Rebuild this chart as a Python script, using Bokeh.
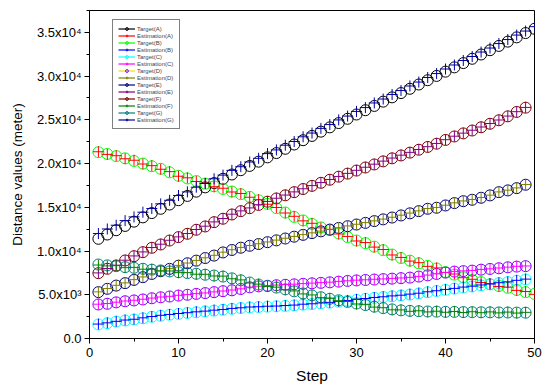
from bokeh.plotting import figure
from bokeh.models import ColumnDataSource, FixedTicker, Legend, LegendItem, Range1d
from bokeh.embed import file_html
from bokeh.resources import INLINE

# ---------------- data (meters) ----------------
steps50 = list(range(1, 51))
steps49 = list(range(1, 50))

target_a = [11400, 11890, 12380, 12870, 13360, 13850, 14340, 14830, 15320, 15810,
            16300, 16790, 17280, 17770, 18260, 18750, 19240, 19730, 20220, 20710,
            21200, 21690, 22180, 22670, 23160, 23650, 24140, 24630, 25120, 25610,
            26100, 26590, 27080, 27570, 28060, 28550, 29040, 29530, 30020, 30510,
            31000, 31490, 31980, 32470, 32960, 33450, 33940, 34430, 34920, 35410]
estimation_a = [21350, 21050, 20900, 20550, 20380, 19950, 19760, 19350, 19080, 18550,
                18370, 17950, 17760, 17350, 17180, 16750, 16580, 16150, 15870, 15350,
                14980, 14350, 13970, 13450, 13170, 12650, 12470, 11950, 11670, 11150,
                10970, 10450, 10170, 9550, 9270, 8850, 8670, 8250, 8070, 7550,
                7370, 6950, 6770, 6400, 6270, 5950, 5870, 5500, 5370, 5050]
target_b = [21300, 21100, 20850, 20600, 20300, 20000, 19700, 19400, 19000, 18600,
            18300, 18000, 17700, 17400, 17100, 16800, 16500, 16200, 15800, 15400,
            14900, 14400, 13900, 13500, 13100, 12700, 12400, 12000, 11600, 11200,
            10900, 10500, 10100, 9600, 9200, 8900, 8600, 8300, 8000, 7600,
            7300, 7000, 6700, 6450, 6200, 6000, 5800, 5550, 5300, 5100]
estimation_b = [1650, 1790, 1960, 2110, 2200, 2360, 2510, 2650, 2750, 2860,
                2950, 3050, 3130, 3240, 3320, 3440, 3510, 3600, 3630, 3690,
                3710, 3770, 3820, 3920, 3970, 4060, 4130, 4250, 4340, 4470,
                4570, 4690, 4770, 4870, 4950, 5070, 5180, 5340, 5460, 5610,
                5730, 5880, 5980, 6120, 6230, 6380, 6480, 6650, 6790]
target_c = [1600, 1750, 1930, 2060, 2170, 2310, 2480, 2600, 2720, 2810,
            2920, 3000, 3100, 3190, 3290, 3390, 3480, 3550, 3600, 3640,
            3680, 3720, 3790, 3870, 3940, 4010, 4100, 4200, 4310, 4420,
            4540, 4640, 4740, 4820, 4920, 5020, 5150, 5290, 5430, 5560,
            5700, 5830, 5950, 6070, 6200, 6330, 6450, 6600, 6750]
estimation_c = [3920, 4000, 4150, 4290, 4370, 4490, 4620, 4740, 4820, 4940,
                5020, 5130, 5210, 5330, 5430, 5540, 5680, 5880, 5980, 6060,
                6110, 6170, 6210, 6280, 6330, 6390, 6440, 6530, 6600, 6670,
                6710, 6770, 6810, 6870, 6920, 6990, 7100, 7250, 7400, 7560,
                7670, 7730, 7780, 7900, 7970, 8060, 8160, 8250, 8290]
target_d = [3890, 3970, 4130, 4260, 4350, 4460, 4600, 4710, 4800, 4910,
            5000, 5100, 5190, 5300, 5410, 5510, 5660, 5850, 5960, 6030,
            6090, 6140, 6190, 6250, 6310, 6360, 6420, 6500, 6580, 6640,
            6690, 6740, 6790, 6840, 6900, 6960, 7080, 7220, 7380, 7530,
            7650, 7700, 7760, 7870, 7950, 8030, 8140, 8220, 8270]
estimation_d = [5330, 5710, 6080, 6360, 6730, 7040, 7410, 7720, 7990, 8360,
                8630, 8930, 9230, 9510, 9870, 10150, 10410, 10630, 10830, 11040,
                11250, 11460, 11670, 11880, 12080, 12280, 12480, 12670, 12870, 13060,
                13250, 13450, 13650, 13860, 14100, 14340, 14590, 14860, 14980, 15240,
                15510, 15730, 15890, 16120, 16390, 16760, 16960, 17220, 17610]
target_e = [5300, 5680, 6050, 6330, 6700, 7010, 7380, 7690, 7960, 8330,
            8600, 8900, 9200, 9480, 9840, 10120, 10380, 10600, 10800, 11010,
            11220, 11430, 11640, 11850, 12050, 12250, 12450, 12640, 12840, 13030,
            13220, 13420, 13620, 13830, 14070, 14310, 14560, 14830, 14950, 15210,
            15480, 15700, 15860, 16090, 16360, 16730, 16930, 17190, 17580]
estimation_e = [7500, 8000, 8380, 8950, 9440, 9900, 10400, 10780, 11230, 11620,
                12000, 12460, 12840, 13330, 13720, 14210, 14590, 14930, 15300, 15670,
                16040, 16400, 16760, 17120, 17480, 17830, 18180, 18530, 18880, 19230,
                19580, 19930, 20280, 20630, 20960, 21280, 21610, 21930, 22300, 22730,
                23130, 23480, 23810, 24180, 24580, 24980, 25430, 25930, 26420]
target_f = [7470, 7970, 8350, 8920, 9410, 9870, 10370, 10750, 11200, 11590,
            11970, 12430, 12810, 13300, 13690, 14180, 14560, 14900, 15270, 15640,
            16010, 16370, 16730, 17090, 17450, 17800, 18150, 18500, 18850, 19200,
            19550, 19900, 20250, 20600, 20930, 21250, 21580, 21900, 22270, 22700,
            23100, 23450, 23780, 24150, 24550, 24950, 25400, 25900, 26390]
estimation_f = [8400, 8300, 8330, 8100, 8130, 7920, 7920, 7730, 7720, 7530,
                7530, 7350, 7340, 7150, 7130, 6830, 6700, 6350, 6220, 5940,
                5870, 5570, 5440, 5100, 4980, 4670, 4590, 4320, 4230, 3950,
                3870, 3590, 3520, 3280, 3270, 3110, 3170, 3040, 3120, 3000,
                3090, 2970, 3060, 2950, 3040, 2930, 3020, 2910, 2990]
target_g = [8460, 8360, 8270, 8160, 8080, 7970, 7870, 7780, 7670, 7580,
            7480, 7400, 7290, 7200, 7080, 6880, 6650, 6400, 6170, 5990,
            5820, 5620, 5390, 5150, 4930, 4720, 4540, 4370, 4180, 4000,
            3820, 3640, 3470, 3330, 3220, 3160, 3120, 3090, 3070, 3050,
            3040, 3020, 3010, 3000, 2990, 2980, 2970, 2960, 2950]
estimation_g = [12000, 12520, 12950, 13480, 13900, 14440, 14860, 15390, 15800, 16350,
                16760, 17300, 17720, 18260, 18680, 19220, 19640, 20180, 20600, 21140,
                21560, 22100, 22520, 23060, 23490, 24020, 24460, 24990, 25430, 25960,
                26400, 26930, 27380, 27900, 28350, 28870, 29320, 29840, 30290, 30810,
                31270, 31780, 32240, 32750, 33210, 33720, 34180, 34690, 35150, 35650]

y_ticks = [0, 5000, 10000, 15000, 20000, 25000, 30000, 35000]
y_minor = [2500, 7500, 12500, 17500, 22500, 27500, 32500, 37500]
y_tick_labels = ["0.0", "5.0x10\u00b3", "1.0x10\u2074", "1.5x10\u2074", "2.0x10\u2074",
                 "2.5x10\u2074", "3.0x10\u2074", "3.5x10\u2074"]
x_ticks = [0, 10, 20, 30, 40, 50]
x_minor = [5, 15, 25, 35, 45]

# (name, steps, values, kind, marker colour, legend line colour)
series = [
    ("Target(A)", steps50, target_a, "circle", "#000000", "#000000"),
    ("Estimation(A)", steps50, estimation_a, "cross", "#FF0000", "#FF0000"),
    ("Target(B)", steps50, target_b, "circle", "#00FF00", "#00FF00"),
    ("Estimation(B)", steps49, estimation_b, "cross", "#0000FF", "#0000FF"),
    ("Target(C)", steps49, target_c, "circle", "#00FFFF", "#00FFFF"),
    ("Estimation(C)", steps49, estimation_c, "cross", "#FF00FF", "#FF00FF"),
    ("Target(D)", steps49, target_d, "circle", "#8000FF", "#E6E600"),
    ("Estimation(D)", steps49, estimation_d, "cross", "#808000", "#808000"),
    ("Target(E)", steps49, target_e, "circle", "#000080", "#000080"),
    ("Estimation(E)", steps49, estimation_e, "cross", "#800080", "#800080"),
    ("Target(F)", steps49, target_f, "circle", "#800000", "#800000"),
    ("Estimation(F)", steps49, estimation_f, "cross", "#008000", "#008000"),
    ("Target(G)", steps49, target_g, "circle", "#008080", "#008080"),
    ("Estimation(G)", steps50, estimation_g, "cross", "#0000A0", "#0000A0"),
]

FONT = "Liberation Sans"

p = figure(width=542, height=392, output_backend="svg", toolbar_location=None,
           x_range=Range1d(0, 50), y_range=Range1d(0, 37500),
           min_border_left=89, min_border_right=8, min_border_top=10, min_border_bottom=54)
p.background_fill_color = "white"
p.border_fill_color = "white"
p.outline_line_color = "black"
p.outline_line_width = 1
p.grid.visible = False

sources = {}
for name, xs, ys, kind, col, lcol in series:
    sources[name] = ColumnDataSource(dict(x=xs, y=ys))

# hidden connecting lines: used only for the legend swatches
line_r = {}
for name, xs, ys, kind, col, lcol in series:
    lr = p.line("x", "y", source=sources[name], line_color=lcol, line_width=1.2)
    lr.visible = False
    line_r[name] = lr

# draw targets first, then estimations on top
order = [s for s in series if s[3] == "circle"] + [s for s in series if s[3] == "cross"]
mark_r = {}
for name, xs, ys, kind, col, lcol in order:
    if kind == "circle":
        r = p.scatter("x", "y", source=sources[name], marker="circle", size=11,
                      fill_color=None, line_color=col, line_width=1)
    else:
        r = p.scatter("x", "y", source=sources[name], marker="cross", size=11,
                      line_color=col, line_width=1)
    mark_r[name] = r

items = [LegendItem(label=s[0], renderers=[line_r[s[0]], mark_r[s[0]]]) for s in series]

legend = Legend(items=items, location=(23, 209))
legend.click_policy = "none"
legend.label_text_font = FONT
legend.label_text_font_size = "6px"
legend.label_height = 7
legend.glyph_height = 7
legend.glyph_width = 17
legend.label_standoff = 2
legend.spacing = 0
legend.padding = 5
legend.margin = 0
legend.border_line_color = "black"
legend.border_line_width = 1
legend.background_fill_color = "white"
legend.background_fill_alpha = 1
p.add_layout(legend, "center")

# axes
p.xaxis.ticker = FixedTicker(ticks=x_ticks, minor_ticks=x_minor)
p.yaxis.ticker = FixedTicker(ticks=y_ticks, minor_ticks=y_minor)
p.yaxis.major_label_overrides = {t: l for t, l in zip(y_ticks, y_tick_labels)}

for ax in (p.xaxis[0], p.yaxis[0]):
    ax.axis_line_color = "black"
    ax.axis_line_width = 1
    ax.major_tick_line_color = "black"
    ax.minor_tick_line_color = "black"
    ax.major_tick_in = 0
    ax.major_tick_out = 5
    ax.minor_tick_in = 0
    ax.minor_tick_out = 3
    ax.major_label_text_font = FONT
    ax.major_label_text_font_size = "13px"
    ax.major_label_text_color = "black"
    ax.axis_label_text_font = FONT
    ax.axis_label_text_font_style = "normal"
    ax.axis_label_text_color = "black"

p.xaxis.axis_label = "Step"
p.xaxis.axis_label_text_font_size = "15.5px"
p.xaxis.major_label_standoff = 4
p.xaxis.axis_label_standoff = 7
p.yaxis.axis_label = "Distance values (meter)"
p.yaxis.axis_label_text_font_size = "13.5px"
p.yaxis.major_label_standoff = 3
p.yaxis.axis_label_standoff = 9

open("out.html", "w").write(file_html(p, INLINE))
